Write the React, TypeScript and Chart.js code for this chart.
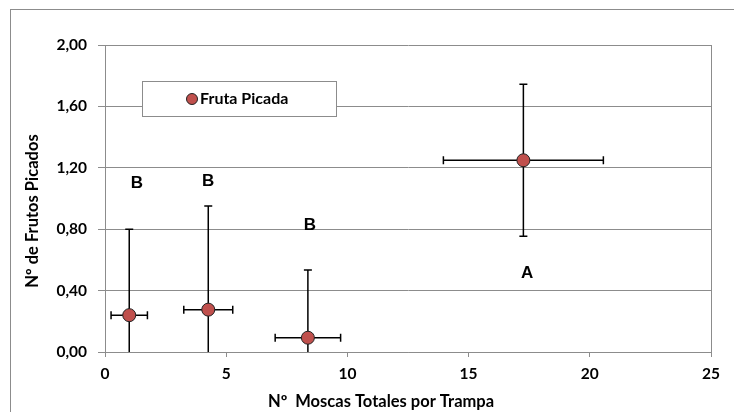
import React, { useEffect, useRef } from "react";
import { Chart, registerables } from "chart.js";

Chart.register(...registerables);

const seriesName = "Fruta Picada";
const xValues = [1.0, 4.26, 8.37, 17.26];
const yValues = [0.24, 0.276, 0.093, 1.249];
const xErrors = [0.75, 1.01, 1.35, 3.3];
const yErrors = [0.56, 0.675, 0.441, 0.495];

const letterTexts = ["B", "B", "B", "A"];
const letterX = [1.32, 4.26, 8.45, 17.41];
const letterY = [1.1, 1.11, 0.827, 0.513];

const xTitle = "Nº  Moscas Totales por Trampa";
const yTitle = "Nº de Frutos Picados";

const xMin = 0, xMax = 25, xStep = 5;
const yMin = 0, yMax = 2, yStep = 0.4;

const FONT = "Lato, 'Open Sans', sans-serif";
const GRAY = "#8c8c8c";
const MARKER = "#C0504D";

export default function App() {
  const ref = useRef<HTMLCanvasElement | null>(null);

  useEffect(() => {
    const canvas = ref.current;
    if (!canvas) return;

    const decor = {
      id: "decor",
      beforeDraw(chart: any) {
        const ctx = chart.ctx;
        ctx.save();
        ctx.fillStyle = "#fff";
        ctx.fillRect(0, 0, chart.width, chart.height);
        ctx.strokeStyle = GRAY;
        ctx.lineWidth = 1;
        ctx.strokeRect(10.5, 9.5, 900, 600);
        ctx.restore();
      },
      beforeDatasetsDraw(chart: any) {
        const ctx = chart.ctx;
        const ca = chart.chartArea;
        const xs = chart.scales.x;
        const ys = chart.scales.y;
        ctx.save();
        // right border of plot
        ctx.strokeStyle = GRAY;
        ctx.lineWidth = 1;
        ctx.beginPath();
        ctx.moveTo(Math.round(ca.right) + 0.5, ca.top);
        ctx.lineTo(Math.round(ca.right) + 0.5, ca.bottom);
        ctx.stroke();

        // legend box
        const lx = ca.left + 37, ly = ca.top + 36, lw = 194, lh = 35;
        ctx.fillStyle = "#fff";
        ctx.fillRect(lx, ly, lw, lh);
        ctx.strokeStyle = GRAY;
        ctx.strokeRect(Math.round(lx) + 0.5, Math.round(ly) + 0.5, lw, lh);
        ctx.beginPath();
        ctx.arc(lx + 50, ly + 18, 5.5, 0, Math.PI * 2);
        ctx.fillStyle = MARKER;
        ctx.fill();
        ctx.strokeStyle = "#222";
        ctx.lineWidth = 1;
        ctx.stroke();
        ctx.fillStyle = "#000";
        ctx.font = `bold 16px ${FONT}`;
        ctx.textAlign = "left";
        ctx.textBaseline = "middle";
        ctx.fillText(seriesName, lx + 58, ly + 18);

        // error bars
        ctx.strokeStyle = "#000";
        ctx.lineWidth = 1.5;
        const cap = 4;
        for (let i = 0; i < xValues.length; i++) {
          const px = xs.getPixelForValue(xValues[i]);
          const py = ys.getPixelForValue(yValues[i]);
          const x1 = xs.getPixelForValue(Math.max(xMin, xValues[i] - xErrors[i]));
          const x2 = xs.getPixelForValue(xValues[i] + xErrors[i]);
          const lowY = yValues[i] - yErrors[i];
          const y1 = ys.getPixelForValue(Math.max(yMin, lowY));
          const y2 = ys.getPixelForValue(yValues[i] + yErrors[i]);
          ctx.beginPath();
          ctx.moveTo(x1, py); ctx.lineTo(x2, py);
          ctx.moveTo(x1, py - cap); ctx.lineTo(x1, py + cap);
          ctx.moveTo(x2, py - cap); ctx.lineTo(x2, py + cap);
          ctx.moveTo(px, y1); ctx.lineTo(px, y2);
          ctx.moveTo(px - cap, y2); ctx.lineTo(px + cap, y2);
          if (lowY >= yMin) {
            ctx.moveTo(px - cap, y1); ctx.lineTo(px + cap, y1);
          }
          ctx.stroke();
        }

        // letters
        ctx.fillStyle = "#000";
        ctx.font = `bold 17px 'Liberation Sans', Arial, sans-serif`;
        ctx.textAlign = "center";
        ctx.textBaseline = "middle";
        for (let i = 0; i < letterTexts.length; i++) {
          ctx.fillText(letterTexts[i], xs.getPixelForValue(letterX[i]), ys.getPixelForValue(letterY[i]));
        }
        ctx.restore();
      },
      afterDraw(chart: any) {
        const ctx = chart.ctx;
        ctx.save();
        ctx.fillStyle = "#000";
        ctx.font = `bold 16.5px ${FONT}`;
        ctx.textAlign = "center";
        ctx.textBaseline = "middle";
        ctx.fillText(xTitle, 381, 402);
        ctx.translate(33, 211);
        ctx.rotate(-Math.PI / 2);
        ctx.fillText(yTitle, 0, 0);
        ctx.restore();
      },
    };

    const chart = new Chart(canvas, {
      type: "scatter",
      data: {
        datasets: [
          {
            label: seriesName,
            data: xValues.map((x, i) => ({ x, y: yValues[i] })),
            backgroundColor: MARKER,
            borderColor: "#222",
            borderWidth: 1,
            pointRadius: 6.5,
            pointHoverRadius: 6.5,
          },
        ],
      },
      options: {
        animation: false,
        responsive: true,
        maintainAspectRatio: false,
        layout: { padding: { top: 45, right: 23, left: 0, bottom: 0 } },
        plugins: { legend: { display: false }, tooltip: { enabled: false } },
        scales: {
          x: {
            type: "linear",
            min: xMin,
            max: xMax,
            afterFit: (s: any) => { s.height = 60; },
            ticks: {
              stepSize: xStep,
              color: "#000",
              padding: 8,
              maxRotation: 0,
              font: { family: FONT, size: 15.5, weight: "bold" },
            },
            grid: { drawOnChartArea: false, drawTicks: true, tickLength: 5, color: GRAY, lineWidth: 1 },
            border: { color: GRAY, width: 1 },
          },
          y: {
            type: "linear",
            min: yMin,
            max: yMax,
            afterFit: (s: any) => { s.width = 105; },
            ticks: {
              stepSize: yStep,
              color: "#000",
              padding: 11,
              font: { family: FONT, size: 15.5, weight: "bold" },
              callback: (v: any) => Number(v).toFixed(2).replace(".", ","),
            },
            grid: { drawTicks: true, tickLength: 7, color: GRAY, lineWidth: 1 },
            border: { color: GRAY, width: 1 },
          },
        },
      },
      plugins: [decor],
    });
    return () => chart.destroy();
  }, []);

  return (
    <div style={{ position: "fixed", left: 0, top: 0, width: 734, height: 412 }}>
      <canvas ref={ref} />
    </div>
  );
}
